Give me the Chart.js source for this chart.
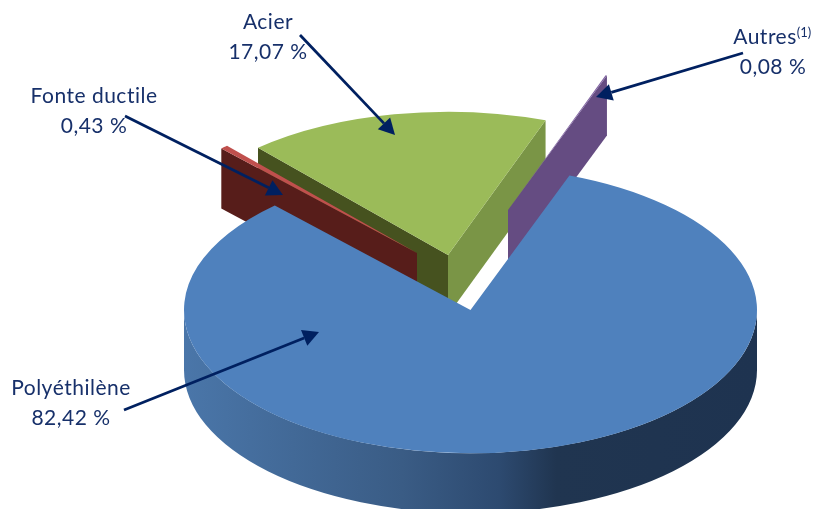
<!DOCTYPE html>
<html lang="fr">
<head>
<meta charset="utf-8">
<title>Répartition par matériau</title>
<script src="https://cdn.jsdelivr.net/npm/chart.js@4"></script>
<style>
  html, body { margin: 0; padding: 0; background: #fff; overflow: hidden; }
  canvas { display: block; }
</style>
</head>
<body>
<canvas id="pie" width="816" height="509"></canvas>
<script>
// data
const categories = ['Polyéthilène', 'Fonte ductile', 'Acier', 'Autres'];
const shares = [82.42, 0.43, 17.07, 0.08];
const footnotes = ['', '', '', '(1)'];

// colours
const topColors = ['#4f81bd', '#c0504d', '#9bbb59', '#8064a2'];
const startWallColors = ['#3a5c85', '#571d1a', '#46521f', '#654c82'];
const endWallColors = ['#203550', '#571d1a', '#7a9546', '#654c82'];
const TEXT_COLOR = '#17306a';
const ARROW_COLOR = '#002060';

// fake 3D view
const SQUASH = 0.5;
const DEPTH = 60;
const DRAW_ORDER = [2, 1, 3, 0];            // back to front
const sliceShift = [[0, 0], [-53.5, -57], [-22.5, -55], [37.5, -100]];

// callouts: text centre x, first baseline y, arrow from, arrow tip
const callouts = [
    { x: 71, y: 395, from: [124, 410], tip: [319, 332] },
    { x: 94, y: 103, from: [125, 116], tip: [283, 195] },
    { x: 268, y: 29, from: [300, 35], tip: [395, 135] },
    { x: 765, y: 44, valueX: 773, from: [743, 53], tip: [596, 97] },
];

function rimFill(ctx, cx, r, i) {
    if (i !== 0) return endWallColors[i];
    const g = ctx.createLinearGradient(cx - r, 0, cx + r, 0);
    g.addColorStop(0, '#4a76a9');
    g.addColorStop(0.38, '#3a5c85');
    g.addColorStop(0.55, '#2d4a70');
    g.addColorStop(0.65, '#203550');
    g.addColorStop(1, '#1e3350');
    return g;
}

function drawWall(ctx, cx, cy, r, angle, color) {
    const ox = cx + r * Math.cos(angle);
    const oy = cy + r * Math.sin(angle) * SQUASH;
    ctx.fillStyle = color;
    ctx.beginPath();
    ctx.moveTo(cx, cy);
    ctx.lineTo(ox, oy);
    ctx.lineTo(ox, oy + DEPTH);
    ctx.lineTo(cx, cy + DEPTH);
    ctx.closePath();
    ctx.fill();
}

function drawSides(ctx, arc, i, cx, cy) {
    const r = arc.outerRadius;
    if (Math.cos(arc.startAngle) < 0) drawWall(ctx, cx, cy, r, arc.startAngle, startWallColors[i]);
    if (Math.cos(arc.endAngle) > 0) drawWall(ctx, cx, cy, r, arc.endAngle, endWallColors[i]);

    // only the front half of the rim can be seen
    const lo = Math.max(arc.startAngle, 0);
    const hi = Math.min(arc.endAngle, Math.PI);
    if (hi <= lo) return;
    ctx.fillStyle = rimFill(ctx, cx, r, i);
    ctx.beginPath();
    ctx.ellipse(cx, cy, r, r * SQUASH, 0, lo, hi);
    ctx.ellipse(cx, cy + DEPTH, r, r * SQUASH, 0, hi, lo, true);
    ctx.closePath();
    ctx.fill();
}

// draws the library's arcs on a tilted plane, each moved out of the pie
const tiltedPie = {
    id: 'tiltedPie',
    beforeDatasetDraw(chart, args) {
        const ctx = chart.ctx;
        const arcs = args.meta.data;
        DRAW_ORDER.forEach(i => {
            const arc = arcs[i];
            const cx = arc.x + sliceShift[i][0];
            const cy = arc.y + sliceShift[i][1];
            drawSides(ctx, arc, i, cx, cy);
            ctx.save();
            ctx.translate(cx, cy);
            ctx.scale(1, SQUASH);
            ctx.translate(-arc.x, -arc.y);
            arc.draw(ctx);
            ctx.restore();
        });
        return false;
    },
};

function drawArrow(ctx, from, tip) {
    const a = Math.atan2(tip[1] - from[1], tip[0] - from[0]);
    const len = 16;
    const half = 8.5;
    const bx = tip[0] - len * Math.cos(a);
    const by = tip[1] - len * Math.sin(a);
    ctx.strokeStyle = ARROW_COLOR;
    ctx.fillStyle = ARROW_COLOR;
    ctx.lineWidth = 2.8;
    ctx.beginPath();
    ctx.moveTo(from[0], from[1]);
    ctx.lineTo(bx, by);
    ctx.stroke();
    ctx.beginPath();
    ctx.moveTo(tip[0], tip[1]);
    ctx.lineTo(bx - half * Math.sin(a), by + half * Math.cos(a));
    ctx.lineTo(bx + half * Math.sin(a), by - half * Math.cos(a));
    ctx.closePath();
    ctx.fill();
}

const calloutLabels = {
    id: 'calloutLabels',
    afterDraw(chart) {
        const ctx = chart.ctx;
        ctx.save();
        callouts.forEach((c, i) => {
            drawArrow(ctx, c.from, c.tip);
            ctx.fillStyle = TEXT_COLOR;
            ctx.font = '21px Lato, "Open Sans", sans-serif';
            ctx.letterSpacing = '0.5px';
            ctx.textBaseline = 'alphabetic';
            ctx.textAlign = 'center';
            ctx.fillText(categories[i], c.x, c.y);
            ctx.fillText(shares[i].toFixed(2).replace('.', ',') + ' %', c.valueX || c.x, c.y + 30);
            if (footnotes[i]) {
                const w = ctx.measureText(categories[i]).width;
                ctx.font = '13px Lato, "Open Sans", sans-serif';
                ctx.letterSpacing = '0px';
                ctx.textAlign = 'left';
                ctx.fillText(footnotes[i], c.x + w / 2, c.y - 7);
            }
        });
        ctx.restore();
    },
};

new Chart(document.getElementById('pie'), {
    type: 'pie',
    data: {
        labels: categories,
        datasets: [{
            data: shares,
            backgroundColor: topColors,
            borderWidth: 0,
        }],
    },
    options: {
        responsive: false,
        animation: false,
        rotation: 20.2,
        radius: 286.5,
        layout: { padding: { left: 125, top: 111 } },
        plugins: {
            legend: { display: false },
            title: { display: false },
            tooltip: { enabled: false },
        },
    },
    plugins: [tiltedPie, calloutLabels],
});
</script>
</body>
</html>
